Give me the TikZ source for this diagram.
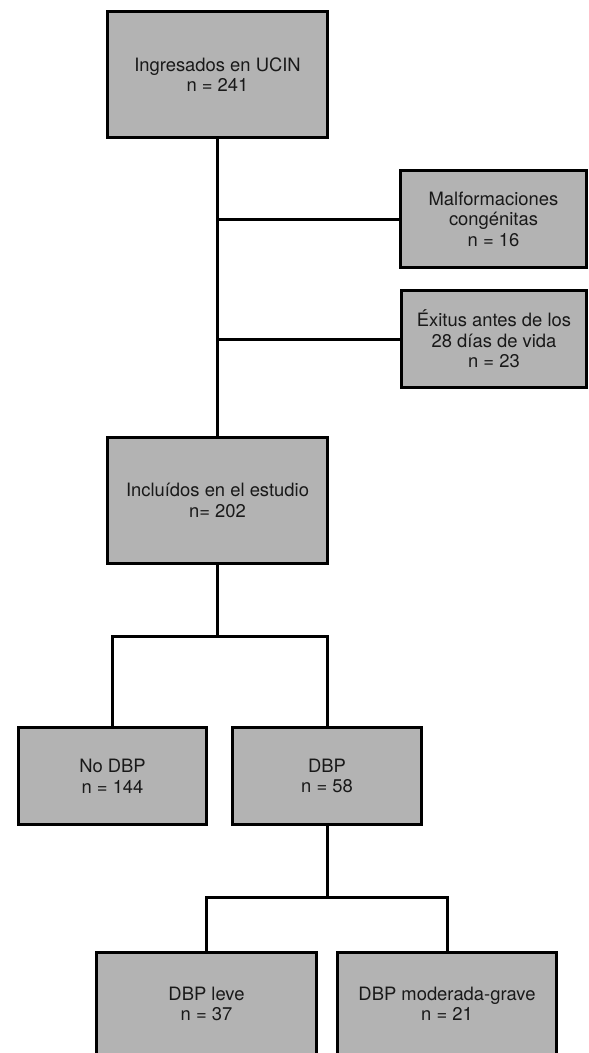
\documentclass[tikz,border=0pt]{standalone}
\usepackage{fontspec}
\setmainfont{TeX Gyre Heros}
\begin{document}
\begin{tikzpicture}[x=1pt,y=-1pt,
  box/.style={draw=black,line width=3pt,fill=boxgray,inner sep=0pt,align=center,
    font=\fontsize{18.4}{20.6}\selectfont,text=black!90},
  conn/.style={draw=black,line width=3pt,line join=miter}]
\definecolor{boxgray}{HTML}{B3B3B3}
\useasboundingbox (0,0) rectangle (589,1053);
\clip (0,0) rectangle (589,1053);
\fill[white] (0,0) rectangle (589,1053);
\node[box,minimum width=220pt,minimum height=126pt] (b1) at (217.5,74.5) {Ingresados en UCIN\\n = 241};
\node[box,minimum width=186pt,minimum height=97pt] (malf) at (493.5,219) {Malformaciones\\congénitas\\n = 16};
\node[box,minimum width=185pt,minimum height=97pt] (exit) at (494,339) {Éxitus antes de los\\28 días de vida\\n = 23};
\node[box,minimum width=220pt,minimum height=126pt] (incl) at (217.5,500.5) {Incluídos en el estudio\\n= 202};
\node[box,minimum width=188pt,minimum height=97pt] (nodbp) at (112.5,776) {No DBP\\n = 144};
\node[box,minimum width=189pt,minimum height=97pt] (dbp) at (327,776) {DBP\\n = 58};
\node[box,minimum width=220pt,minimum height=102.5pt,text depth=0pt] (leve) at (206.5,1003.75) {DBP leve\\n = 37};
\node[box,minimum width=219pt,minimum height=102.5pt] (grave) at (447,1003.75) {DBP moderada-grave\\n = 21};
\coordinate (s1) at (217.5,636);
\coordinate (s2) at (327,897);
\draw[conn] (b1.south) -- (incl.north);
\draw[conn] (malf.west) -- (malf.west -| b1.south);
\draw[conn] (exit.west) -- (exit.west -| b1.south);
\draw[conn] (incl.south) -- (s1);
\draw[conn] (nodbp.north) |- (s1) -| (dbp.north);
\draw[conn] (dbp.south) -- (s2);
\draw[conn] (leve.north) |- (s2) -| (grave.north);
\end{tikzpicture}
\end{document}
